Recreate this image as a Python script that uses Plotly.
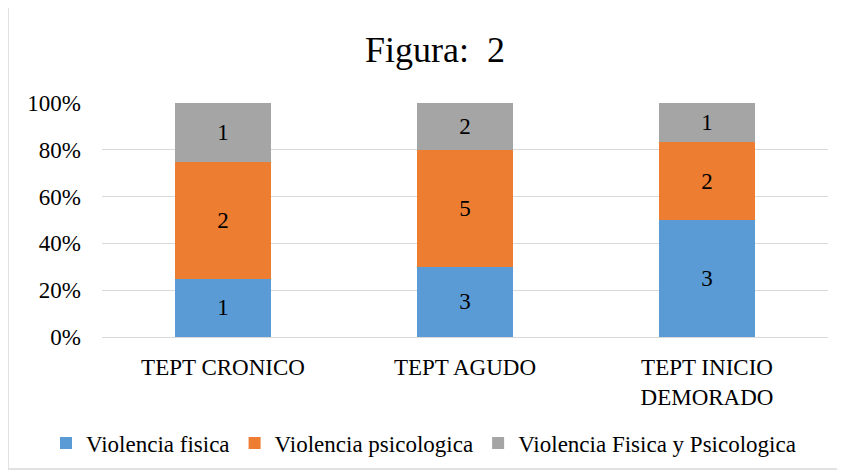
import plotly.graph_objects as go

categories = ["TEPT CRONICO", "TEPT AGUDO", "TEPT INICIO<br>DEMORADO"]
fisica = [1, 3, 3]
psicologica = [2, 5, 2]
ambas = [1, 2, 1]
series_names = ["Violencia fisica", "Violencia psicologica", "Violencia Fisica y Psicologica"]
colors = ["#5B9BD5", "#ED7D31", "#A5A5A5"]
tick_vals = [0, 20, 40, 60, 80, 100]
tick_text = ["0%", "20%", "40%", "60%", "80%", "100%"]

# page body has an 8px margin, so the figure is shifted by 8px
OFF = 8
W, H = 845 - OFF, 474 - OFF
ml, mt = 102 - OFF, 103 - OFF
mr = W - (828 - OFF)
mb = H - (337 - OFF)
font = "Liberation Serif, Times New Roman, serif"
FS = 23

fig = go.Figure()
for name, vals, c in zip(series_names, [fisica, psicologica, ambas], colors):
    fig.add_trace(go.Bar(
        x=categories, y=vals, name=name, marker=dict(color=c, line=dict(width=0)),
        text=vals, textposition="inside", insidetextanchor="middle",
        textfont=dict(family=font, size=FS, color="#000000"),
        constraintext="none",
    ))

pw = W - ml - mr
ph = H - mt - mb
x0 = (8 - OFF - ml) / pw
x1 = (839 - OFF - ml) / pw
y0 = 1 - (469 - OFF - mt) / ph
y1 = 1 + (mt - (7 - OFF)) / ph

fig.update_layout(
    width=W, height=H,
    margin=dict(l=ml, r=mr, t=mt, b=mb, pad=0, autoexpand=False),
    barmode="stack", barnorm="percent", bargap=0.6,
    paper_bgcolor="white", plot_bgcolor="white",
    font=dict(family=font, size=FS, color="#000000"),
    title=dict(text="Figura:\u00a0 2", x=(435 - OFF) / W, xref="container", xanchor="center",
               y=1 - (49 - OFF) / H, yanchor="middle",
               font=dict(family=font, size=36, color="#000000")),
    xaxis=dict(showgrid=False, showline=True, linecolor="#D9D9D9", linewidth=1,
               ticks="", ticklabelstandoff=9,
               tickfont=dict(family=font, size=FS, color="#000000")),
    yaxis=dict(range=[0, 100], tickvals=tick_vals, ticktext=tick_text,
               showgrid=True, gridcolor="#D9D9D9", gridwidth=1, zeroline=False,
               ticks="", ticklabelstandoff=20,
               tickfont=dict(family=font, size=FS, color="#000000")),
    legend=dict(orientation="h", x=(46 - OFF - ml) / pw, xanchor="left",
                y=-(443 - 337) / ph, yanchor="middle",
                font=dict(family=font, size=FS, color="#000000"),
                itemwidth=30, tracegroupgap=0, traceorder="normal"),
    showlegend=True,
    shapes=[dict(type="rect", xref="paper", yref="paper", x0=x0, x1=x1, y0=y0, y1=y1,
                 line=dict(color="#D9D9D9", width=1.5), layer="below")],
)

fig.write_html("out.html")
